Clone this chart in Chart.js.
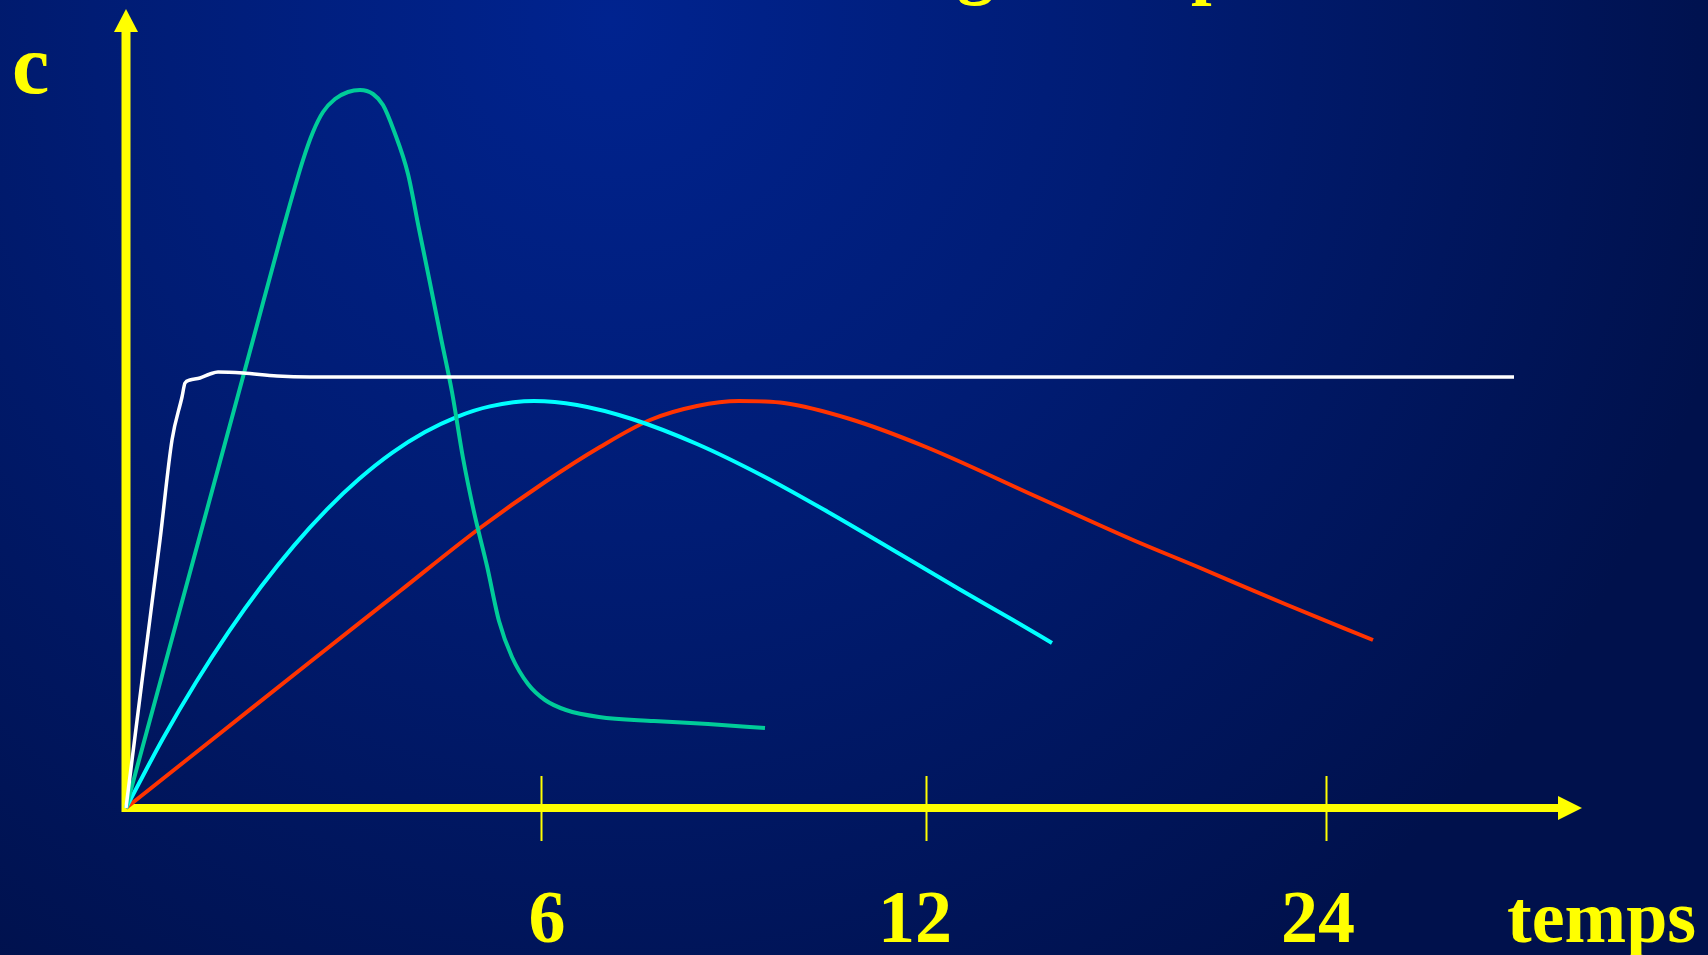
<!DOCTYPE html>
<html>
<head>
<meta charset="utf-8">
<script src="https://cdn.jsdelivr.net/npm/chart.js@4.4.0/dist/chart.umd.min.js"></script>
<style>
  html, body { margin: 0; padding: 0; overflow: hidden; }
  body {
    width: 1708px;
    height: 955px;
    background: radial-gradient(circle 1150px at 610px 20px, #00238f 0%, #001c74 45%, #00114c 100%);
  }
  canvas { display: block; }
</style>
</head>
<body>
<canvas id="curves" width="1708" height="955"></canvas>
<script>
// axis: positions of the three ticks and what they say
const tickAt = [41.5, 80, 120];
const tickLabels = ['6', '12', '24'];
const xLabel = 'temps';
const yLabel = 'c';
const titleBits = ['g', 'p'];

// curves (x, y in plot units)
const whiteX = [0, 1.7, 3.4, 4.6, 5.6, 5.9, 6.4, 7.4, 8.4, 9.2, 11.7, 15.1, 18.4, 60, 100, 138.8];
const whiteY = [0, 13.5, 26.8, 36.8, 41.1, 42.5, 42.8, 43.0, 43.4, 43.6, 43.5, 43.2, 43.1, 43.1, 43.1, 43.1];

const greenX = [0, 6.3, 12.7, 15.4, 17.7, 18.7, 19.7, 20.9, 22.2, 23.4, 24.7, 25.7, 26.8, 28.2, 29.3, 30.4, 31.5, 32.6, 33.7, 34.8, 36.1, 37.3, 38.6, 40.2, 41.9, 44.0, 47.3, 52.8, 58.2, 63.9];
const greenY = [0, 23.2, 46.8, 56.8, 64.8, 67.6, 69.6, 70.9, 71.6, 71.8, 71.4, 70.3, 67.7, 63.4, 57.9, 52.5, 47.0, 41.6, 35.0, 29.6, 24.2, 18.7, 15.1, 12.4, 10.8, 9.8, 9.1, 8.7, 8.4, 8.0];

const cyanX = [0, 3.7, 7.0, 10.3, 13.5, 16.8, 20.1, 23.3, 26.6, 29.9, 33.1, 36.4, 40.8, 45.1, 50.6, 57.1, 63.7, 70.2, 76.7, 83.3, 88.7, 92.6];
const cyanY = [0, 6.95, 12.57, 17.66, 22.12, 26.24, 29.86, 32.89, 35.51, 37.59, 39.12, 40.16, 40.7, 40.3, 38.9, 36.4, 33.2, 29.6, 25.8, 21.9, 18.8, 16.5];

const redX = [0, 9.2, 18.4, 27.4, 35.4, 41.9, 47.4, 52.4, 57.1, 61.3, 65.8, 72.4, 80.0, 90.9, 100.7, 107.2, 115.9, 124.7];
const redY = [0, 7.3, 14.6, 21.7, 28.0, 32.6, 36.1, 38.8, 40.2, 40.7, 40.5, 38.9, 36.1, 31.2, 26.8, 24.1, 20.4, 16.8];

function points(xs, ys) {
    return xs.map((x, i) => ({ x: x, y: ys[i] }));
}

const yellow = '#ffff00';
const labelFont = 'bold 74px "Liberation Serif", "Times New Roman", serif';
const cFont = 'bold 84px "Liberation Serif", "Times New Roman", serif';

// yellow axes with arrows, ticks and labels
const axesPlugin = {
    id: 'slideAxes',
    beforeDatasetsDraw(chart) {
        const ctx = chart.ctx;
        const xs = chart.scales.x, ys = chart.scales.y;
        const x0 = xs.getPixelForValue(0), y0 = ys.getPixelForValue(0);
        const xEnd = xs.getPixelForValue(xs.max), yTop = ys.getPixelForValue(ys.max);

        ctx.save();
        ctx.strokeStyle = yellow;
        ctx.fillStyle = yellow;

        // vertical axis
        ctx.lineWidth = 9;
        ctx.beginPath();
        ctx.moveTo(x0, y0 + 4);
        ctx.lineTo(x0, yTop + 20);
        ctx.stroke();
        ctx.beginPath();
        ctx.moveTo(x0, yTop);
        ctx.lineTo(x0 + 12, yTop + 23);
        ctx.lineTo(x0 - 12, yTop + 23);
        ctx.closePath();
        ctx.fill();

        // horizontal axis
        ctx.lineWidth = 8;
        ctx.beginPath();
        ctx.moveTo(x0 - 4, y0);
        ctx.lineTo(xEnd - 20, y0);
        ctx.stroke();
        ctx.beginPath();
        ctx.moveTo(xEnd, y0);
        ctx.lineTo(xEnd - 24, y0 - 12);
        ctx.lineTo(xEnd - 24, y0 + 12);
        ctx.closePath();
        ctx.fill();

        // tick marks
        ctx.lineWidth = 2;
        tickAt.forEach(t => {
            const px = Math.round(xs.getPixelForValue(t)) + 0.5;
            ctx.beginPath();
            ctx.moveTo(px, y0 - 32);
            ctx.lineTo(px, y0 + 33);
            ctx.stroke();
        });
        ctx.restore();
    },
    afterDraw(chart) {
        const ctx = chart.ctx;
        const xs = chart.scales.x, ys = chart.scales.y;
        const y0 = ys.getPixelForValue(0);
        const xEnd = xs.getPixelForValue(xs.max), yTop = ys.getPixelForValue(ys.max);
        // the slide's labels sit a little off their ticks
        const nudge = [6, -11, -8];

        ctx.save();
        ctx.fillStyle = yellow;
        ctx.font = labelFont;
        ctx.textBaseline = 'alphabetic';

        ctx.textAlign = 'center';
        tickAt.forEach((t, i) => {
            ctx.fillText(tickLabels[i], xs.getPixelForValue(t) + nudge[i], y0 + 134);
        });

        ctx.textAlign = 'left';
        ctx.fillText(xLabel, xEnd - 75, y0 + 134);

        // bottom of the slide title, cut off by the top edge
        ctx.fillText(titleBits[0], 957, -10);
        ctx.fillText(titleBits[1], 1191, -10);

        ctx.font = cFont;
        ctx.fillText(yLabel, 12, yTop + 84);
        ctx.restore();
    }
};

function lineSet(label, xs, ys, color, width) {
    return {
        label: label,
        data: points(xs, ys),
        borderColor: color,
        borderWidth: width,
        pointRadius: 0,
        fill: false,
        cubicInterpolationMode: 'monotone',
        borderCapStyle: 'butt'
    };
}

new Chart(document.getElementById('curves'), {
    type: 'line',
    data: {
        datasets: [
            lineSet('IV', whiteX, whiteY, '#ffffff', 3.5),
            lineSet('rapide', greenX, greenY, '#00cc99', 4),
            lineSet('moyenne', cyanX, cyanY, '#00ffff', 4),
            lineSet('lente', redX, redY, '#ff3300', 4)
        ]
    },
    options: {
        responsive: false,
        animation: false,
        devicePixelRatio: 1,
        layout: { padding: { left: 126, right: 126, top: 9, bottom: 147 } },
        plugins: {
            legend: { display: false },
            tooltip: { enabled: false }
        },
        scales: {
            x: { type: 'linear', min: 0, max: 145.6, display: false },
            y: { type: 'linear', min: 0, max: 79.9, display: false }
        },
        datasets: { line: { clip: false } }
    },
    plugins: [axesPlugin]
});
</script>
</body>
</html>
